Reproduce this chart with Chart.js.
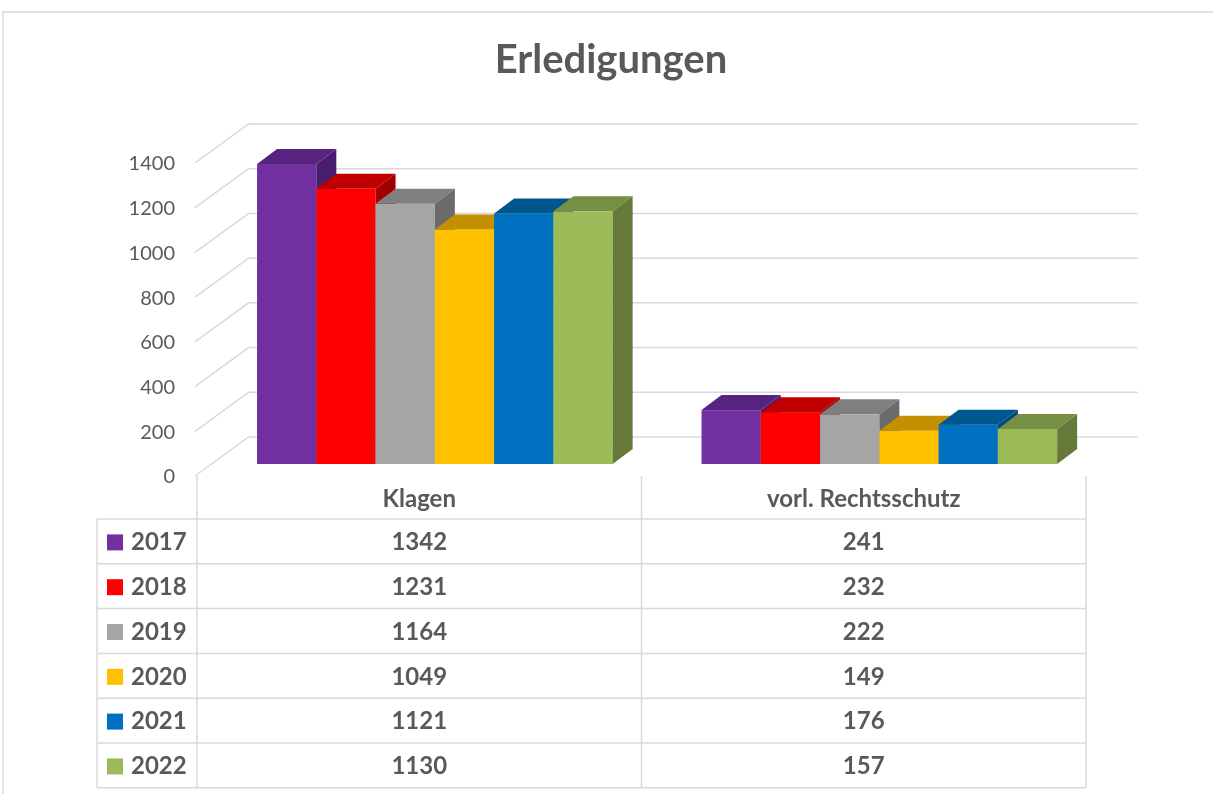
<!DOCTYPE html>
<html lang="de">
<head>
<meta charset="UTF-8">
<title>Erledigungen</title>
<script src="https://cdn.jsdelivr.net/npm/chart.js"></script>
<style>
  html, body { margin: 0; padding: 0; background: #fff; }
  canvas { display: block; }
</style>
</head>
<body>
<canvas id="chart" width="1213" height="794"></canvas>
<script>
const categories = ["Klagen", "vorl. Rechtsschutz"];
const years = ["2017", "2018", "2019", "2020", "2021", "2022"];
const klagen = [1342, 1231, 1164, 1049, 1121, 1130];
const rechtsschutz = [241, 232, 222, 149, 176, 157];

const frontColors = ["#7030A0", "#FF0000", "#A5A5A5", "#FFC000", "#0070C0", "#9BBB59"];
const topColors = ["#562380", "#C00000", "#7F7F7F", "#C49000", "#00568F", "#778F44"];
const sideColors = ["#4A1E6E", "#A00000", "#6B6B6B", "#A87C00", "#004A7C", "#66793A"];

const GRID = "#d9d9d9";
const TEXT = "#595959";
const FONT = "Lato, 'Open Sans', sans-serif";
// offsets from the plane of the bar faces
const FRONT = { dx: -15.6, dy: 12 };
const WALL = { dx: 36, dy: -27 };
const DEPTH = { dx: 20, dy: -15 };
const ROW_H = 44.8;
const HEAD_H = 43;

function poly(ctx, pts, color) {
  ctx.beginPath();
  ctx.moveTo(pts[0][0], pts[0][1]);
  for (let k = 1; k < pts.length; k++) ctx.lineTo(pts[k][0], pts[k][1]);
  ctx.closePath();
  ctx.fillStyle = color;
  ctx.fill();
}

const box3d = {
  id: "box3d",
  beforeDatasetsDraw(chart) {
    const { ctx, chartArea: a, scales: { y } } = chart;
    ctx.save();
    // floor diagonals + back wall grid
    ctx.strokeStyle = GRID;
    ctx.lineWidth = 1.5;
    y.ticks.forEach(t => {
      const py = y.getPixelForValue(t.value);
      ctx.beginPath();
      ctx.moveTo(a.left + FRONT.dx - 2, py + FRONT.dy);
      ctx.lineTo(a.left + WALL.dx, py + WALL.dy);
      ctx.lineTo(a.right + WALL.dx, py + WALL.dy);
      ctx.stroke();
    });
    // bars, left to right so the next front face hides the previous side
    categories.forEach((c, j) => {
      chart.data.datasets.forEach((ds, i) => {
        const bar = chart.getDatasetMeta(i).data[j];
        const l = bar.x - bar.width / 2, r = bar.x + bar.width / 2;
        const t = bar.y, b = bar.base;
        ctx.fillStyle = ds.backgroundColor;
        ctx.fillRect(l, t, r - l, b - t);
        poly(ctx, [[l, t], [l + DEPTH.dx, t + DEPTH.dy], [r + DEPTH.dx, t + DEPTH.dy], [r, t]], topColors[i]);
        poly(ctx, [[r, t], [r + DEPTH.dx, t + DEPTH.dy], [r + DEPTH.dx, b + DEPTH.dy], [r, b]], sideColors[i]);
      });
    });
    ctx.restore();
    return false;
  },
  afterDraw(chart) {
    const { ctx, chartArea: a, scales: { x, y } } = chart;
    ctx.save();

    // outer frame
    ctx.strokeStyle = GRID;
    ctx.lineWidth = 1.5;
    ctx.beginPath();
    ctx.moveTo(3, 794);
    ctx.lineTo(3, 12);
    ctx.lineTo(1213, 12);
    ctx.stroke();

    // title
    ctx.fillStyle = TEXT;
    ctx.font = "bold 40px " + FONT;
    ctx.textAlign = "center";
    ctx.textBaseline = "middle";
    ctx.fillText("Erledigungen", 611, 60);

    // y labels on the front plane
    ctx.font = "20px " + FONT;
    ctx.textAlign = "right";
    y.ticks.forEach(t => {
      ctx.fillText(String(t.value), 175, y.getPixelForValue(t.value) + FRONT.dy + 1);
    });

    // data table
    const top = y.getPixelForValue(0) + FRONT.dy;
    const colL = a.left + FRONT.dx;
    const colM = (x.getPixelForValue(0) + x.getPixelForValue(1)) / 2 + FRONT.dx;
    const colR = a.right + FRONT.dx;
    const legL = 97;
    const rowTop = top + HEAD_H;
    const bottom = rowTop + ROW_H * years.length;

    ctx.strokeStyle = GRID;
    ctx.lineWidth = 1.5;
    ctx.beginPath();
    [colL, colM, colR].forEach(cx => { ctx.moveTo(cx, top); ctx.lineTo(cx, bottom); });
    ctx.moveTo(legL, rowTop); ctx.lineTo(legL, bottom);
    for (let k = 0; k <= years.length; k++) {
      ctx.moveTo(legL, rowTop + k * ROW_H);
      ctx.lineTo(colR, rowTop + k * ROW_H);
    }
    ctx.stroke();

    ctx.fillStyle = TEXT;
    ctx.font = "bold 24px " + FONT;
    ctx.textAlign = "center";
    categories.forEach((c, j) => {
      ctx.fillText(c, x.getPixelForValue(j) + FRONT.dx, top + HEAD_H / 2 + 2);
    });

    const series = [klagen, rechtsschutz];
    years.forEach((yr, i) => {
      const cy = rowTop + ROW_H * (i + 0.5) + 1;
      ctx.fillStyle = frontColors[i];
      ctx.fillRect(107, cy - 8, 16, 16);
      ctx.fillStyle = TEXT;
      ctx.textAlign = "left";
      ctx.fillText(yr, 131, cy);
      ctx.textAlign = "center";
      series.forEach((s, j) => {
        ctx.fillText(String(s[i]), x.getPixelForValue(j) + FRONT.dx, cy);
      });
    });

    ctx.restore();
  }
};

const datasets = years.map((yr, i) => ({
  label: yr,
  data: [klagen[i], rechtsschutz[i]],
  backgroundColor: frontColors[i],
  barPercentage: 1,
  categoryPercentage: 0.8
}));

new Chart(document.getElementById("chart"), {
  type: "bar",
  data: { labels: categories, datasets },
  plugins: [box3d],
  options: {
    responsive: false,
    animation: false,
    layout: { padding: { left: 212.6, right: 111.4, top: 151, bottom: 330 } },
    plugins: { legend: { display: false }, tooltip: { enabled: false }, title: { display: false } },
    scales: {
      x: { display: false },
      y: { display: false, min: 0, max: 1400, ticks: { stepSize: 200 } }
    }
  }
});
</script>
</body>
</html>
